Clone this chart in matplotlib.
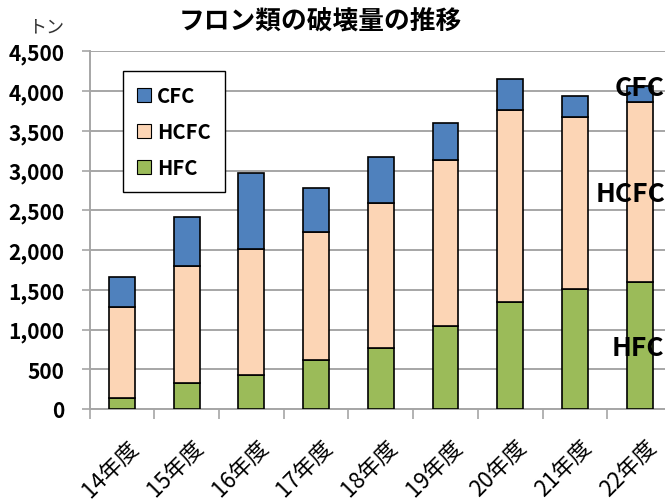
import numpy as np
import matplotlib.pyplot as plt

plt.rcParams['font.family'] = ['Noto Sans CJK JP', 'DejaVu Sans']

years = ['14年度', '15年度', '16年度', '17年度', '18年度', '19年度', '20年度', '21年度', '22年度']
hfc = np.array([135, 330, 425, 615, 770, 1040, 1350, 1505, 1600])
hcfc = np.array([1150, 1475, 1590, 1615, 1820, 2090, 2415, 2165, 2260])
cfc = np.array([370, 615, 960, 555, 580, 465, 385, 270, 210])

c_cfc = '#4F81BD'
c_hcfc = '#FCD5B5'
c_hfc = '#9BBB59'
grid_c = '#A6A6A6'

fig = plt.figure(figsize=(6.65, 5.02), dpi=100)
ax = fig.add_axes([0.1346, 0.1833, 0.876, 0.7122])

x = np.arange(len(years))
w = 0.4
ax.bar(x, hfc, w, color=c_hfc, edgecolor='black', linewidth=1.2, label='HFC', zorder=3)
ax.bar(x, hcfc, w, bottom=hfc, color=c_hcfc, edgecolor='black', linewidth=1.2, label='HCFC', zorder=3)
ax.bar(x, cfc, w, bottom=hfc + hcfc, color=c_cfc, edgecolor='black', linewidth=1.2, label='CFC', zorder=3)

ax.set_xlim(-0.5, len(years) - 0.5)
ax.set_ylim(0, 4500)
ax.set_yticks(np.arange(0, 4501, 500))
ax.set_yticklabels([f'{v:,}' for v in range(0, 4501, 500)], fontsize=15, fontweight='bold')
ax.yaxis.grid(True, color=grid_c, linewidth=1.4, zorder=0)
ax.set_axisbelow(True)

ax.set_xticks(x + 0.08)
ax.set_xticklabels(years, fontsize=16, rotation=45, ha='right', va='top', rotation_mode='anchor')
ax.set_xticks(np.arange(-0.5, len(years)), minor=True)
ax.tick_params(axis='x', which='major', length=0, pad=19)
ax.tick_params(axis='x', which='minor', length=7, color=grid_c, width=1.2)
ax.tick_params(axis='y', length=6, color=grid_c, width=1.2, pad=12)

for s in ['top', 'right']:
    ax.spines[s].set_visible(False)
for s in ['left', 'bottom']:
    ax.spines[s].set_color(grid_c)
    ax.spines[s].set_linewidth(1.4)

h, l = ax.get_legend_handles_labels()
leg = ax.legend(h[::-1], l[::-1], loc='upper left', bbox_to_anchor=(123 / 665, 1 - 72 / 502),
                bbox_transform=fig.transFigure, prop={'size': 14.5, 'weight': 'bold'},
                fancybox=False, frameon=True, edgecolor='black', framealpha=1,
                handlelength=0.7, handleheight=0.7, handletextpad=0.3,
                labelspacing=0.75, borderpad=0.7, borderaxespad=0)
leg.get_frame().set_linewidth(1.0)
for p in leg.get_patches():
    p.set_linewidth(0.8)

# ラベル（右端）
ax.text(8, 4043, 'CFC', ha='center', va='center', fontsize=19, fontweight='bold', zorder=5)
ax.text(7.86, 2708, 'HCFC', ha='center', va='center', fontsize=19, fontweight='bold', zorder=5)
ax.text(7.97, 768, 'HFC', ha='center', va='center', fontsize=19, fontweight='bold', zorder=5)

fig.text(320 / 665, 1 - 22 / 502, 'フロン類の破壊量の推移', ha='center', va='center',
         fontsize=18.5, fontweight='bold')
fig.text(46 / 665, 1 - 27 / 502, 'トン', ha='center', va='center', fontsize=13, color='#333333')

fig.savefig('out.png', dpi=100)
